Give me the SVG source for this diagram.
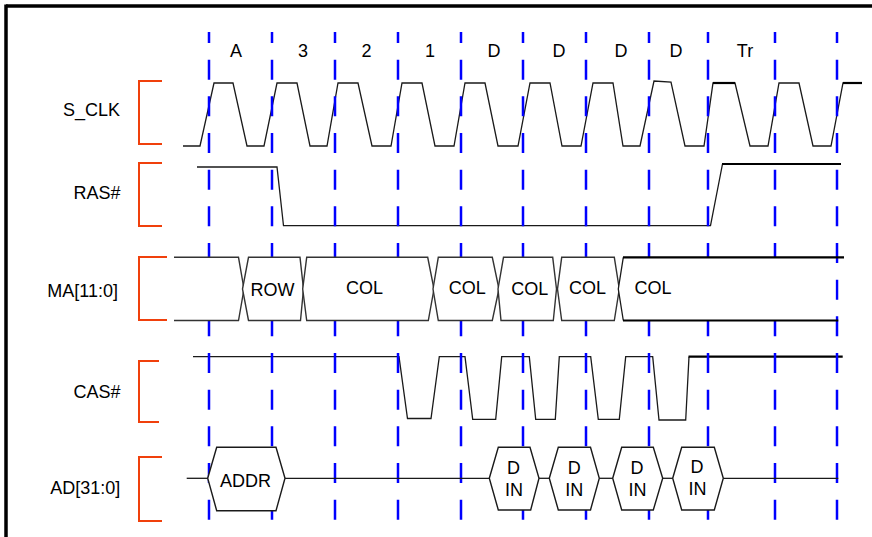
<svg xmlns="http://www.w3.org/2000/svg" width="872" height="537" viewBox="0 0 872 537">
<style>
  text { font-family: "Liberation Sans", Arial, sans-serif; font-size: 18px; fill: #000; }
  .lbl { text-anchor: end; }
  .mid { text-anchor: middle; }
  .br { fill: none; stroke: #f0400c; stroke-width: 2; }
  .grid line { stroke: #0000ff; stroke-width: 2.5; stroke-dasharray: 20 16.67; stroke-dashoffset: 9; }
  .sig { fill: none; stroke: #1a1a1a; stroke-width: 1.3; stroke-linejoin: miter; }
  .bold { fill: none; stroke: #000; stroke-width: 2.2; }
  .seg { fill: #fff; stroke: #333; stroke-width: 1.4; }
  .hex { fill: #fff; stroke: #1a1a1a; stroke-width: 1.4; }
  .frame { stroke: #000; stroke-width: 3.5; fill: none; }
</style>
<rect x="0" y="0" width="872" height="537" fill="#fff"/>
<g id="frame">
  <line class="frame" x1="6" y1="6" x2="872" y2="6"/>
  <line class="frame" x1="6" y1="4.5" x2="6" y2="537"/>
</g>
<g id="cycle-labels">
  <text class="mid" x="236" y="57">A</text>
  <text class="mid" x="303" y="57">3</text>
  <text class="mid" x="366.5" y="57">2</text>
  <text class="mid" x="430" y="57">1</text>
  <text class="mid" x="494" y="57">D</text>
  <text class="mid" x="559" y="57">D</text>
  <text class="mid" x="621" y="57">D</text>
  <text class="mid" x="676" y="57">D</text>
  <text class="mid" x="745" y="57">Tr</text>
</g>
<g id="signal-labels">
  <text class="lbl" x="120" y="115.7">S_CLK</text>
  <text class="lbl" x="120.5" y="199">RAS#</text>
  <text class="lbl" x="118" y="296.5">MA[11:0]</text>
  <text class="lbl" x="120.5" y="397.5">CAS#</text>
  <text class="lbl" x="120.3" y="493.5">AD[31:0]</text>
</g>
<g id="brackets">
  <path class="br" d="M162,81 H139 V144 H162"/>
  <path class="br" d="M162,163 H139 V226 H162"/>
  <path class="br" d="M167,257 H139 V320 H167"/>
  <path class="br" d="M159,361 H139 V422 H159"/>
  <path class="br" d="M162,457 H139 V521 H162"/>
</g>
<g id="s_clk">
  <polyline class="sig" points="183,146 200,146 214,83 233,83 247,146 264,146 277,83 297,83 310,146 327,146 338,83 358,83 372,146 391,146 402,83 422,83 435,146 454,146 465,83 485,83 498,146 518,146 530,83 550,83 562,146 581,146 593,83 613,83 623,146 640,146 654,81 671,82 685,146 704,146 713,83 735,83 750,146 768,146 779,83 799,83 813,146 831,146 843,83 862,83"/>
  <line class="bold" x1="713" y1="83" x2="735" y2="83"/>
  <line class="bold" x1="843" y1="83" x2="862" y2="83"/>
</g>
<g id="ras">
  <polyline class="sig" points="197,167 277,167 283.5,225.7 710.5,225.7 722.5,164"/>
  <line class="bold" x1="722" y1="164" x2="841" y2="164"/>
</g>
<g id="cas">
  <polyline class="sig" points="193,356.7 399,356.7 407.5,418.5 431,418.5 439.3,356.7 465,356.7 472.7,419.3 495.7,419.3 501.7,356.7 529.3,356.7 535.7,419.3 555.3,419.3 559.3,356.7 590.7,356.7 598.3,419.3 619.3,419.3 625.7,356.7 652.7,356.7 659,420 685.7,420 689,356.7"/>
  <line class="bold" x1="688.5" y1="356.7" x2="842.7" y2="356.7"/>
</g>
<g class="grid" id="clock-edges">
  <line x1="209" y1="32" x2="209" y2="520"/>
  <line x1="272" y1="32" x2="272" y2="520"/>
  <line x1="335" y1="32" x2="335" y2="520"/>
  <line x1="398" y1="32" x2="398" y2="520"/>
  <line x1="461" y1="32" x2="461" y2="520"/>
  <line x1="523" y1="32" x2="523" y2="520"/>
  <line x1="586" y1="32" x2="586" y2="520"/>
  <line x1="649" y1="32" x2="649" y2="520"/>
  <line x1="708" y1="32" x2="708" y2="520"/>
  <line x1="775" y1="32" x2="775" y2="520"/>
  <line x1="837" y1="32" x2="837" y2="520"/>
</g>
<g id="ma">
  <path class="seg" d="M174,257.3 H238.5 L244,289 L238.5,320.5 H174"/>
  <polygon class="seg" points="248.5,257.3 300,257.3 303.5,289 300.5,320.5 248.5,320.5 242.5,289"/>
  <polygon class="seg" points="306.7,257.3 427.7,257.3 434,289 428.3,320.5 306.7,320.5 302.7,289"/>
  <polygon class="seg" points="438.3,257.3 492.3,257.3 499,289 492.3,320.5 438.3,320.5 433,289"/>
  <polygon class="seg" points="503.5,257.3 552.7,257.3 556.5,289 553.3,320.5 501,320.5 498,289"/>
  <polygon class="seg" points="561.7,257.3 614.3,257.3 619.3,289 614.3,320.5 561.7,320.5 557.5,289"/>
  <polygon fill="#fff" points="623.3,257.3 835.4,257.3 835.4,320.5 623.3,320.5 618.3,289"/>
  <path class="sig" d="M623.3,257.3 L618.3,289 L623.3,320.5"/>
  <line class="bold" x1="623" y1="257.3" x2="844" y2="257.3"/>
  <line class="bold" x1="623" y1="320.5" x2="838.3" y2="320.5"/>
  <text class="mid" x="272.5" y="295.5">ROW</text>
  <text class="mid" x="364.5" y="293.5">COL</text>
  <text class="mid" x="467.3" y="294">COL</text>
  <text class="mid" x="529.7" y="294.5">COL</text>
  <text class="mid" x="587.5" y="294">COL</text>
  <text class="mid" x="653" y="293.5">COL</text>
</g>
<g id="ad">
  <polyline class="sig" points="186.7,478.3 208,478.3"/>
  <polyline class="sig" points="285,478.3 489.3,478.3"/>
  <polyline class="sig" points="539,478.3 549.3,478.3"/>
  <polyline class="sig" points="599.3,478.3 612.7,478.3"/>
  <polyline class="sig" points="662.7,478.3 672.7,478.3"/>
  <polyline class="sig" points="723.3,478.3 838.3,478.3"/>
  <polygon class="hex" points="207.7,478.3 216.7,447.3 276,447.3 285,478.3 276,510.7 216.7,510.7"/>
  <polygon class="hex" points="489.3,478.3 498.3,447.3 530,447.3 539,478.3 530.7,510 498.3,510"/>
  <polygon class="hex" points="549.3,478.3 558.3,447.3 590.5,447.3 599.3,478.3 590.5,510 558.3,510"/>
  <polygon class="hex" points="612.7,478.3 621.7,447.3 653.3,447.3 662.7,478.3 653.3,510 621.7,510"/>
  <polygon class="hex" points="672.7,478.3 681.7,447.3 714.3,447.3 723.3,478.3 714.3,510 681.7,510"/>
  <text class="mid" x="245.5" y="487">ADDR</text>
  <text class="mid" x="513.5" y="474">D</text>
  <text class="mid" x="514" y="496">IN</text>
  <text class="mid" x="574.3" y="474">D</text>
  <text class="mid" x="574.3" y="496">IN</text>
  <text class="mid" x="637" y="474">D</text>
  <text class="mid" x="637.5" y="496">IN</text>
  <text class="mid" x="697" y="473">D</text>
  <text class="mid" x="697.5" y="494.5">IN</text>
</g>
</svg>
